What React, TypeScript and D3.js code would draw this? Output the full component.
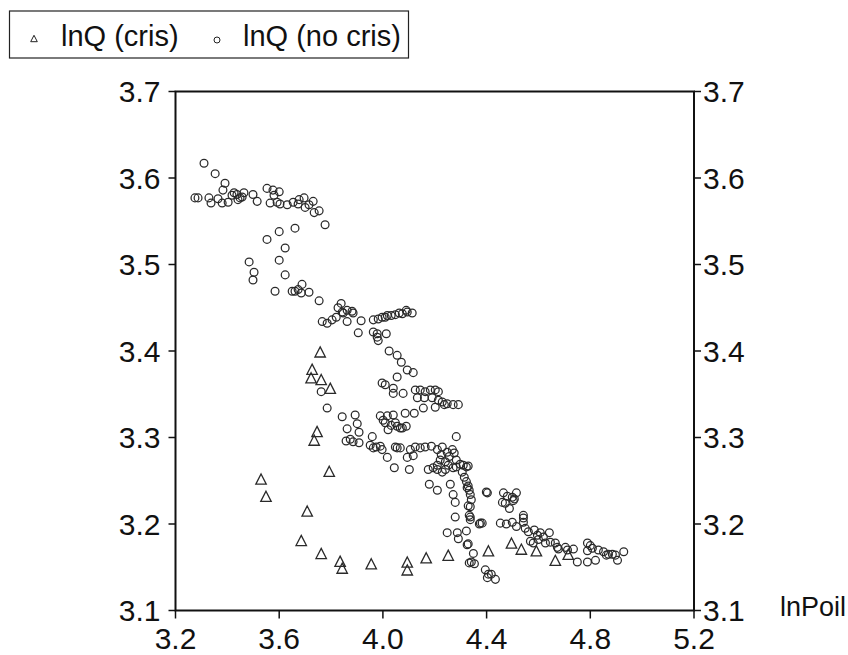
import React from 'react';
import * as d3 from 'd3';

// lnPoil (x) vs lnQ (y), crisis observations
const crisX = [3.758, 3.727, 3.723, 3.762, 3.797, 3.746, 3.735, 3.793, 3.530, 3.549, 3.708, 3.685, 3.762, 3.835, 3.843, 3.955, 4.094, 4.094, 4.167, 4.252, 4.407, 4.496, 4.534, 4.592, 4.665, 4.715];
const crisY = [3.398, 3.378, 3.368, 3.366, 3.356, 3.306, 3.296, 3.260, 3.251, 3.231, 3.214, 3.180, 3.165, 3.156, 3.148, 3.153, 3.155, 3.146, 3.160, 3.163, 3.168, 3.177, 3.170, 3.168, 3.157, 3.164];

const noCris: [number, number][] = [
  [3.310, 3.617], [3.353, 3.605], [3.391, 3.594], [3.383, 3.586], [3.275, 3.577], [3.287, 3.577], [3.329, 3.577], [3.337, 3.571],
  [3.364, 3.576], [3.380, 3.571], [3.403, 3.572], [3.418, 3.580], [3.426, 3.583], [3.437, 3.581], [3.441, 3.575], [3.457, 3.578],
  [3.464, 3.583], [3.449, 3.577], [3.499, 3.581], [3.515, 3.573], [3.553, 3.588], [3.576, 3.586], [3.600, 3.584], [3.580, 3.580],
  [3.565, 3.571], [3.592, 3.572], [3.603, 3.570], [3.631, 3.569], [3.654, 3.572], [3.673, 3.570], [3.677, 3.575], [3.696, 3.577],
  [3.700, 3.566], [3.715, 3.569], [3.731, 3.573], [3.735, 3.560], [3.754, 3.562], [3.777, 3.546],
  [3.661, 3.542], [3.600, 3.538], [3.553, 3.529], [3.623, 3.519], [3.600, 3.505], [3.484, 3.503], [3.503, 3.491], [3.499, 3.482],
  [3.623, 3.488], [3.584, 3.469], [3.650, 3.469], [3.661, 3.469], [3.673, 3.471], [3.685, 3.467], [3.688, 3.477], [3.715, 3.468],
  [3.754, 3.458],
  [3.839, 3.455], [3.827, 3.450], [3.843, 3.445], [3.862, 3.447], [3.881, 3.446], [3.885, 3.444], [3.847, 3.444], [3.766, 3.434],
  [3.785, 3.432], [3.804, 3.436], [3.820, 3.439], [3.862, 3.434], [3.916, 3.435], [3.905, 3.421], [3.963, 3.436], [3.982, 3.437],
  [3.997, 3.439], [4.009, 3.439], [4.017, 3.441], [4.032, 3.441], [4.048, 3.442], [4.063, 3.444], [4.075, 3.443], [4.090, 3.447],
  [4.094, 3.445], [4.113, 3.444], [3.963, 3.422], [3.978, 3.420], [3.982, 3.412], [3.978, 3.416], [4.013, 3.420],
  [4.024, 3.400], [4.055, 3.395], [4.071, 3.387], [4.094, 3.378], [4.117, 3.375], [4.055, 3.370], [3.997, 3.363], [4.009, 3.361],
  [4.040, 3.357], [4.040, 3.351], [4.078, 3.351], [3.762, 3.353], [4.125, 3.355], [4.144, 3.355], [4.163, 3.353], [4.183, 3.355],
  [4.202, 3.355], [4.214, 3.353], [4.133, 3.346], [4.160, 3.346], [4.190, 3.346], [4.214, 3.343], [4.229, 3.341], [4.237, 3.338],
  [4.248, 3.339], [4.271, 3.338], [4.291, 3.338], [4.156, 3.334], [4.202, 3.335], [4.086, 3.328], [4.121, 3.328],
  [3.785, 3.334], [3.843, 3.324], [3.893, 3.326], [3.901, 3.316], [3.862, 3.310], [3.908, 3.306], [3.858, 3.296], [3.874, 3.298],
  [3.885, 3.295], [3.908, 3.294], [3.959, 3.301], [3.951, 3.291], [3.963, 3.288], [3.974, 3.289], [3.990, 3.290], [3.997, 3.286],
  [3.990, 3.325], [4.001, 3.320], [4.009, 3.317], [4.017, 3.325], [4.032, 3.314], [4.040, 3.326], [4.048, 3.317], [4.055, 3.313],
  [4.067, 3.311], [4.020, 3.309], [4.090, 3.313], [4.048, 3.289], [4.055, 3.288], [4.017, 3.277], [4.044, 3.265], [4.075, 3.311],
  [4.067, 3.288], [4.106, 3.286], [4.125, 3.289], [4.144, 3.288], [4.163, 3.289], [4.187, 3.290], [4.210, 3.286], [4.229, 3.289],
  [4.248, 3.283], [4.268, 3.286], [4.275, 3.282], [4.094, 3.277], [4.117, 3.279], [4.102, 3.263], [4.283, 3.301], [4.175, 3.263],
  [4.194, 3.265], [4.210, 3.263], [4.229, 3.260], [4.241, 3.263], [4.210, 3.268], [4.221, 3.274], [4.241, 3.272], [4.252, 3.268],
  [4.256, 3.278], [4.225, 3.280], [4.271, 3.265], [4.283, 3.274], [4.298, 3.269], [4.310, 3.268], [4.322, 3.266], [4.329, 3.267],
  [4.283, 3.266],
  [4.179, 3.246], [4.210, 3.239], [4.260, 3.246], [4.271, 3.234], [4.279, 3.225], [4.279, 3.208], [4.306, 3.260], [4.314, 3.254],
  [4.322, 3.249], [4.329, 3.244], [4.333, 3.239], [4.325, 3.242], [4.337, 3.234], [4.341, 3.228], [4.329, 3.221], [4.337, 3.220],
  [4.333, 3.210], [4.337, 3.208], [4.337, 3.205], [4.399, 3.237], [4.403, 3.236], [4.372, 3.200], [4.376, 3.201], [4.248, 3.190],
  [4.287, 3.190], [4.322, 3.192], [4.291, 3.183], [4.325, 3.176], [4.329, 3.177], [4.349, 3.166], [4.341, 3.156], [4.333, 3.155],
  [4.353, 3.154], [4.395, 3.147], [4.407, 3.142], [4.418, 3.142], [4.434, 3.136], [4.403, 3.138],
  [4.465, 3.236], [4.480, 3.232], [4.499, 3.231], [4.515, 3.236], [4.507, 3.229], [4.461, 3.225], [4.472, 3.224], [4.488, 3.218],
  [4.503, 3.227], [4.383, 3.201], [4.453, 3.201], [4.476, 3.200], [4.499, 3.202], [4.515, 3.197], [4.542, 3.210], [4.542, 3.207],
  [4.542, 3.202], [4.549, 3.195], [4.561, 3.191], [4.584, 3.193], [4.596, 3.187], [4.607, 3.190], [4.619, 3.185], [4.642, 3.190],
  [4.627, 3.178], [4.646, 3.179], [4.569, 3.180], [4.580, 3.178], [4.600, 3.182], [4.665, 3.178], [4.673, 3.173], [4.677, 3.171],
  [4.704, 3.173], [4.712, 3.170], [4.735, 3.171], [4.750, 3.156], [4.789, 3.156], [4.820, 3.158], [4.789, 3.178], [4.789, 3.169],
  [4.800, 3.175], [4.808, 3.172], [4.831, 3.170], [4.851, 3.168], [4.862, 3.164], [4.870, 3.165], [4.885, 3.165], [4.897, 3.164],
  [4.905, 3.158], [4.929, 3.168],
];

const xTicks = [3.2, 3.6, 4.0, 4.4, 4.8, 5.2];
const yTicks = [3.1, 3.2, 3.3, 3.4, 3.5, 3.6, 3.7];
const seriesNames = ['lnQ (cris)', 'lnQ (no cris)'];
const xTitle = 'lnPoil';

const W = 848, H = 655;
const plot = { left: 175.5, right: 694, top: 91.5, bottom: 610.5 };
const FONT = '"Liberation Sans", Arial, sans-serif';
const ink = '#222';

const triPath = (s: number) => `M0,${-s * 0.62}L${s * 0.55},${s * 0.45}L${-s * 0.55},${s * 0.45}Z`;

export default function App() {
  const x = d3.scaleLinear().domain([3.2, 5.2]).range([plot.left, plot.right]);
  const y = d3.scaleLinear().domain([3.1, 3.7]).range([plot.bottom, plot.top]);
  const fs = 30;
  const lfs = 29;

  return (
    <svg width={W} height={H} style={{ position: 'absolute', left: 0, top: 0, background: '#fff' }} fontFamily={FONT}>
      {/* legend */}
      <rect x={9.5} y={11} width={399} height={47} fill="#fff" stroke={ink} strokeWidth={1.2} />
      <path d={triPath(6)} transform="translate(34,39)" fill="none" stroke={ink} strokeWidth={1} />
      <text x={61} y={36} dy="0.35em" fontSize={lfs} fill="#111">{seriesNames[0]}</text>
      <circle cx={217} cy={40} r={3} fill="none" stroke={ink} strokeWidth={1} />
      <text x={243} y={36} dy="0.35em" fontSize={lfs} fill="#111">{seriesNames[1]}</text>

      {/* points */}
      {noCris.map(([a, b], i) => (
        <circle key={'c' + i} cx={x(a)} cy={y(b)} r={3.9} fill="none" stroke="#2a2a2a" strokeWidth={1.25} />
      ))}
      {crisX.map((a, i) => (
        <path key={'t' + i} d={triPath(9.5)} transform={`translate(${x(a)},${y(crisY[i])})`} fill="none" stroke="#2a2a2a" strokeWidth={1.3} />
      ))}

      {/* frame */}
      <rect x={plot.left} y={plot.top} width={plot.right - plot.left} height={plot.bottom - plot.top} fill="none" stroke="#111" strokeWidth={2} />

      {/* y ticks, both sides */}
      {yTicks.map((t) => (
        <g key={'y' + t}>
          <line x1={plot.left - 7} x2={plot.left} y1={y(t)} y2={y(t)} stroke="#111" strokeWidth={1.5} />
          <line x1={plot.right} x2={plot.right + 7} y1={y(t)} y2={y(t)} stroke="#111" strokeWidth={1.5} />
          <text x={plot.left - 15} y={y(t)} dy="0.35em" textAnchor="end" fontSize={fs} fill="#111">{t.toFixed(1)}</text>
          <text x={plot.right + 9} y={y(t)} dy="0.35em" textAnchor="start" fontSize={fs} fill="#111">{t.toFixed(1)}</text>
        </g>
      ))}

      {/* x ticks */}
      {xTicks.map((t) => (
        <g key={'x' + t}>
          <line x1={x(t)} x2={x(t)} y1={plot.bottom} y2={plot.bottom + 8} stroke="#111" strokeWidth={1.5} />
          <text x={x(t)} y={plot.bottom + 28} dy="0.35em" textAnchor="middle" fontSize={fs} fill="#111">{t.toFixed(1)}</text>
        </g>
      ))}
      <text x={780} y={y(3.1) - 4} dy="0.35em" fontSize={27} fill="#111">{xTitle}</text>
    </svg>
  );
}
